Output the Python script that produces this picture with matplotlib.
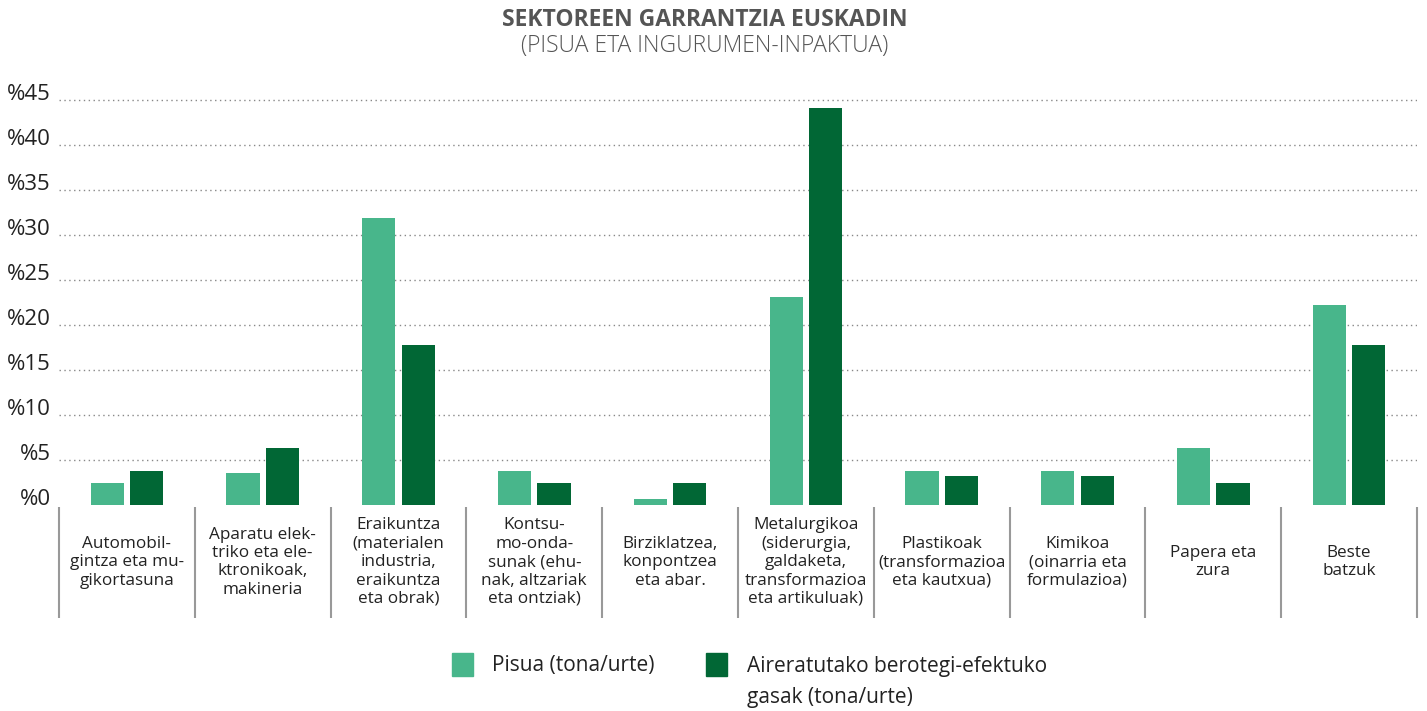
import numpy as np
import matplotlib.pyplot as plt
from matplotlib.patches import Rectangle

plt.rcParams['font.family'] = ['Open Sans', 'DejaVu Sans']

# ---------- data ----------
categories = [
    "Automobil-\ngintza eta mu-\ngikortasuna",
    "Aparatu elek-\ntriko eta ele-\nktronikoak,\nmakineria",
    "Eraikuntza\n(materialen\nindustria,\neraikuntza\neta obrak)",
    "Kontsu-\nmo-onda-\nsunak (ehu-\nnak, altzariak\neta ontziak)",
    "Birziklatzea,\nkonpontzea\neta abar.",
    "Metalurgikoa\n(siderurgia,\ngaldaketa,\ntransformazioa\neta artikuluak)",
    "Plastikoak\n(transformazioa\neta kautxua)",
    "Kimikoa\n(oinarria eta\nformulazioa)",
    "Papera eta\nzura",
    "Beste\nbatzuk",
]
pisua = [2.4, 3.6, 31.9, 3.8, 0.7, 23.1, 3.8, 3.8, 6.3, 22.2]
berotegi = [3.8, 6.3, 17.8, 2.4, 2.4, 44.1, 3.2, 3.2, 2.4, 17.8]
yticks = [0, 5, 10, 15, 20, 25, 30, 35, 40, 45]
series_labels = ["Pisua (tona/urte)", "Aireratutako berotegi-efektuko\ngasak (tona/urte)"]

light = '#48b68b'
dark = '#016735'
text_col = '#222222'

fig = plt.figure(figsize=(14.27, 7.11), dpi=100)
ax = fig.add_axes([0.0413, 0.2897, 0.9517, 0.5823])

x = np.arange(len(categories))
w = 0.245
ax.bar(x - 0.145, pisua, w, color=light, zorder=3)
ax.bar(x + 0.145, berotegi, w, color=dark, zorder=3)

ax.set_xlim(-0.5, len(categories) - 0.5)
ax.set_ylim(0, 46)

# dotted grid (not at zero)
for v in yticks[1:]:
    ax.axhline(v, color='#888888', linestyle=(0, (1, 2.5)), linewidth=1.0, zorder=1)

ax.set_yticks(yticks)
ax.set_yticklabels([f'%{v}' for v in yticks], fontsize=16, color=text_col)
for lab in ax.get_yticklabels():
    lab.set_verticalalignment('baseline')
ax.tick_params(axis='y', length=0, pad=6)
ax.set_xticks([])
for s in ax.spines.values():
    s.set_visible(False)

# separators below the axis
trans = ax.get_xaxis_transform()
sep = np.arange(len(categories) + 1) - 0.5
ax.vlines(sep, -0.005, -0.273, transform=trans, color='#999999',
          linewidth=1.5, clip_on=False)

# category labels
for xi, name in zip(x, categories):
    ax.text(xi, -0.138, name, transform=trans, ha='center', va='center',
            fontsize=12.3, color=text_col, linespacing=1.2)

# title
fig.text(0.494, 0.972, "SEKTOREEN GARRANTZIA EUSKADIN", ha='center', va='center',
         fontsize=16.5, fontweight='bold', color='#555555')
fig.text(0.494, 0.936, "(PISUA ETA INGURUMEN-INPAKTUA)", ha='center', va='center',
         fontsize=16.5, fontweight='light', color='#555555')

# legend (drawn by hand so the square sits on the first line)
W, H = 1427, 711
fig.patches.append(Rectangle((452 / W, 1 - 676 / H), 21 / W, 23 / H,
                             transform=fig.transFigure, color=light))
fig.text(492 / W, 1 - 666 / H, series_labels[0], ha='left', va='center',
         fontsize=15, color=text_col)
fig.patches.append(Rectangle((706 / W, 1 - 676 / H), 21 / W, 23 / H,
                             transform=fig.transFigure, color=dark))
fig.text(747 / W, 1 - 656 / H, series_labels[1], ha='left', va='top',
         fontsize=15, color=text_col, linespacing=1.6)

fig.savefig('out.png', dpi=100)
